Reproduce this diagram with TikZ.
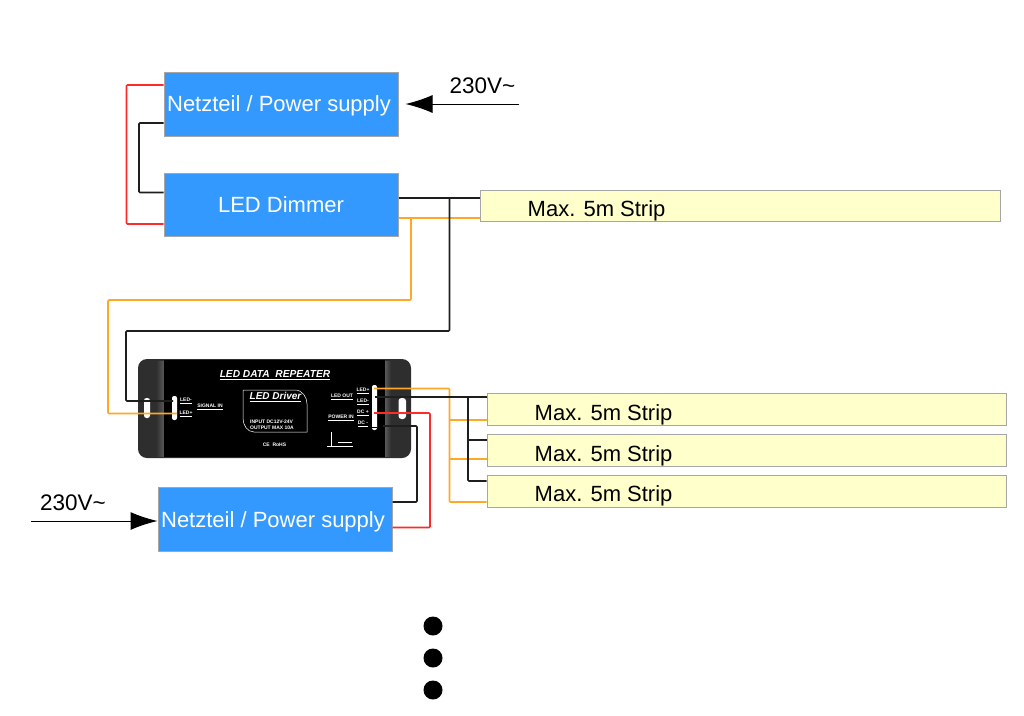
\documentclass[tikz,border=0pt]{standalone}
\usepackage{fontspec}
\setmainfont{Liberation Sans}
\usetikzlibrary{positioning,arrows.meta}

\begin{document}
\begin{tikzpicture}[x=1pt,y=-1pt,
                    bluenode/.style={rectangle, draw=black!35, fill=blue1, line width=1pt, text=white, anchor=north west, inner sep=0pt, text height=15pt, text depth=0pt, font=\fontsize{22}{24}\selectfont},
                    stripnode/.style={rectangle, draw=black!35, fill=yellow1, line width=1pt, anchor=north west, minimum width=519.5pt, minimum height=31.5pt},
                    striplabel/.style={font=\fontsize{22}{24}\selectfont, anchor=west, inner sep=0pt},
                    wire/.style={line width=1.7pt, rounded corners=1pt},
                    dotnode/.style={circle, fill=black, inner sep=0pt, minimum size=19pt},
                    feed/.style={line width=1pt, -{Latex[length=27pt,width=18pt]}},
                    tiny1/.style={text=white, font=\bfseries\fontsize{5}{6}\selectfont, inner sep=0pt},
                ]
                    \definecolor{blue1}{HTML}{3399FF}
                    \definecolor{yellow1}{HTML}{FFFFCC}
                    \definecolor{orange1}{HTML}{FFA726}
                    \definecolor{red1}{HTML}{FF2A2A}
                    \definecolor{black1}{HTML}{1E1E1E}
                    \useasboundingbox (0,0) rectangle (1024,715);

                    %Nodes
                    \node[bluenode, minimum width=234pt, minimum height=64pt](psu1) at (163.5,71.5) {Netzteil / Power supply\hspace*{4pt}};
                    \node[bluenode, minimum width=234pt, minimum height=63pt](dimmer) at (163.5,172.5) {LED Dimmer};
                    \node[stripnode](strip1) at (480,189.5) {};
                    \node[stripnode](strip2) at (486.5,393) {};
                    \node[stripnode](strip3) at (486.5,434) {};
                    \node[stripnode](strip4) at (486.5,475) {};
                    \node[striplabel] at (527.5,211) {Max. 5m Strip};
                    \node[striplabel] at (534.5,415) {Max. 5m Strip};
                    \node[striplabel] at (534.5,456) {Max. 5m Strip};
                    \node[striplabel] at (534.5,496) {Max. 5m Strip};
                    \node[bluenode, minimum width=234pt, minimum height=64pt](psu2) at (157.5,487) {Netzteil / Power supply\hspace*{4pt}};

                    %Repeater
                    \fill[black!82, rounded corners=9pt] (138,359) -- (411,359) -- (411,458) -- (138,458) -- cycle;
                    \fill[left color=black!82, right color=black!65] (156,361) rectangle (164,456);
                    \fill[left color=black!65, right color=black!82] (385,361) rectangle (391,456);
                    \fill[black] (164,360) rectangle (385,457);
                    \fill[white, rounded corners=2.5pt] (144,398) rectangle (150,418);
                    \fill[white, rounded corners=3pt] (398.5,398) rectangle (406,419);
                    \fill[white, rounded corners=2pt] (172,396) rectangle (177,420);
                    \fill[white, rounded corners=2pt] (372,385) rectangle (377,430);
                    \fill[black] (372,426.5) rectangle (377,427.5);
                    \node[text=white, font=\bfseries\itshape\fontsize{10.2}{12}\selectfont, inner sep=1pt](title) at (275,375) {\underline{LED DATA\ \ REPEATER}};
                    \node[text=white, font=\bfseries\itshape\fontsize{10}{12}\selectfont, inner sep=1pt](logo) at (275.5,397) {\underline{LED Driver}};
                    \draw[white, line width=0.5pt] (243,390) -- (295,390) to[out=0,in=90] (307,404) -- (307,432) -- (254,432) to[out=180,in=-90] (243,418) -- cycle;
                    \node[tiny1, align=left, anchor=west](spec) at (250,424.5) {INPUT DC12V-24V\\OUTPUT MAX 10A};
                    \node[tiny1](rohs) at (274.5,445) {CE\ \ RoHS};
                    \node[tiny1](ledm) at (186,401) {\underline{LED-}};
                    \node[tiny1](ledp) at (186,414) {\underline{LED+}};
                    \node[tiny1](sig) at (210,407) {\underline{SIGNAL IN}};
                    \node[tiny1](lout) at (342,397) {\underline{LED OUT}};
                    \node[tiny1](pin) at (341,418) {\underline{POWER IN}};
                    \node[tiny1](op) at (363,391) {\underline{LED+}};
                    \node[tiny1](om) at (363,402) {\underline{LED-}};
                    \node[tiny1](dp) at (363,413) {\underline{DC +}};
                    \node[tiny1](dm) at (363,424) {\underline{DC -}};
                    \draw[white, line width=1pt] (331,432) -- (331,446) -- (353,446) (327,446.5) -- (336,446.5) (338,442) -- (352,442);

                    \coordinate (in1) at (519,104);
                    \coordinate (in2) at (31,521);
                    \node[font=\fontsize{22.5}{24}\selectfont](v1) at (482.5,86) {230V\textasciitilde};
                    \node[font=\fontsize{22.5}{24}\selectfont](v2) at (73,503) {230V\textasciitilde};
                    \draw[feed, shorten >=7pt](in1) -- (psu1.east |- in1);
                    \draw[feed](in2) -- (psu2.west |- in2);

                    %Lines
                    \draw[wire, red1](psu1.west |- 0,85) -- (126.5,85) -- (126.5,224) -- (dimmer.west |- 0,224);
                    \draw[wire, black1](psu1.west |- 0,123) -- (139,123) -- (139,192.5) -- (dimmer.west |- 0,192.5);
                    \draw[wire, orange1](dimmer.east |- 0,218) -- (strip1.west |- 0,218);
                    \draw[wire, black1](dimmer.east |- 0,198) -- (strip1.west |- 0,198);
                    \draw[wire, orange1](411,218) -- (411,300) -- (108,300) -- (108,413.5) -- (177,413.5);
                    \draw[wire, black1](449.5,198) -- (449.5,331) -- (126,331) -- (126,401) -- (173,401);

                    \draw[wire, orange1](374,388.5) -- (449.5,388.5) -- (449.5,502) -- (strip4.west |- 0,502);
                    \draw[wire, orange1](449.5,420) -- (strip2.west |- 0,420);
                    \draw[wire, orange1](449.5,459) -- (strip3.west |- 0,459);
                    \draw[wire, black1](375,397) -- (strip2.west |- 0,397);
                    \draw[wire, black1](468,397) -- (468,481) -- (strip4.west |- 0,481);
                    \draw[wire, black1](468,440) -- (strip3.west |- 0,440);
                    \draw[wire, red1](374,413) -- (430,413) -- (430,527.5) -- (psu2.east |- 0,527.5);
                    \draw[wire, black1](383,426) -- (417,426) -- (417,502) -- (psu2.east |- 0,502);

                    \node[dotnode](dot1) at (433,626) {};
                    \node[dotnode](dot2) at (433,658) {};
                    \node[dotnode](dot3) at (433,690) {};
                \end{tikzpicture}
\end{document}
